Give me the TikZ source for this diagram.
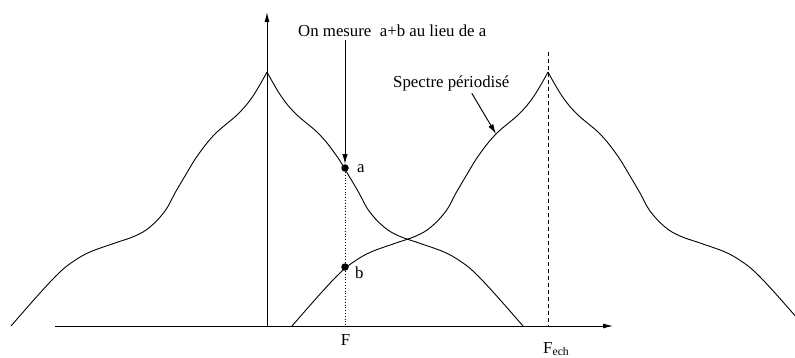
\documentclass[tikz,border=0pt]{standalone}
\usepackage{fontspec}
\setmainfont{Liberation Serif}
\usetikzlibrary{arrows.meta}
\tikzset{
  curve/.style={line width=0.9pt, line join=round},
  axis/.style={line width=0.95pt, -{Latex[length=10pt,width=5pt]}},
  ptr/.style={line width=0.95pt, -{Latex[length=10pt,width=5.5pt]}},
  dot/.style={circle, fill=black, inner sep=0pt, minimum size=7.5pt},
  lbl/.style={inner sep=0pt, font=\fontsize{16.8}{20}\selectfont},
  spectre/.pic={
    \draw[curve] plot[smooth, tension=0.65] coordinates {(0,72) (14,96) (29,114) (52,134) (69,155) (82,176) (92,193) (102,211) (117,227) (132,236) (152,243) (177,252) (193,261) (207,272) (227,293) (256,326)};
    \draw[curve] plot[smooth, tension=0.65] coordinates {(0,72) (-14,96) (-29,114) (-52,134) (-69,155) (-82,176) (-92,193) (-102,211) (-117,227) (-132,236) (-152,243) (-177,252) (-193,261) (-207,272) (-227,293) (-256,326)};
  }
}
\begin{document}
\begin{tikzpicture}[x=1pt, y=-1pt]
\useasboundingbox (0,0) rectangle (795,358);
\clip (0,0) rectangle (795,358);
% spectra
\pic at (267,0) {spectre};
\pic at (548,0) {spectre};
% axes
\coordinate (O) at (267,326);
\coordinate (xstart) at (55,326);
\coordinate (xend) at (613,326);
\coordinate (ytop) at (267,12);
\draw[axis] (xstart) -- (xend);
\draw[axis] (O) -- (ytop);
% Fech dashed
\coordinate (fechtop) at (548,52);
\coordinate (fechbot) at (548,326);
\draw[line width=0.9pt, dash pattern=on 4pt off 3pt] (fechtop) -- (fechbot);
% points
\node[dot] (a) at (345,168) {};
\node[dot] (b) at (345,267) {};
\coordinate (Fbot) at (345,326);
\draw[line width=0.8pt, dotted] (a) -- (b) -- (Fbot);
% labels
\node[lbl, anchor=base west] (la) at (357,173) {a};
\node[lbl, anchor=base west] (lb) at (355,278) {b};
\node[lbl, anchor=base] (F) at (345.5,345) {F};
\node[lbl, anchor=base west] (Fech) at (543,353) {F\textsubscript{ech}};
\node[lbl, anchor=base west] (mesure) at (298,37) {On mesure~ a+b au lieu de a};
\node[lbl, anchor=base west] (spec) at (393,88) {Spectre périodisé};
% pointers
\draw[ptr] ([yshift=-3pt]mesure.south -| a) -- (a.north);
\coordinate (oncurve) at (496,134);
\draw[ptr] ([xshift=20.5pt,yshift=-1.5pt]spec.south) -- (oncurve);
\end{tikzpicture}
\end{document}
